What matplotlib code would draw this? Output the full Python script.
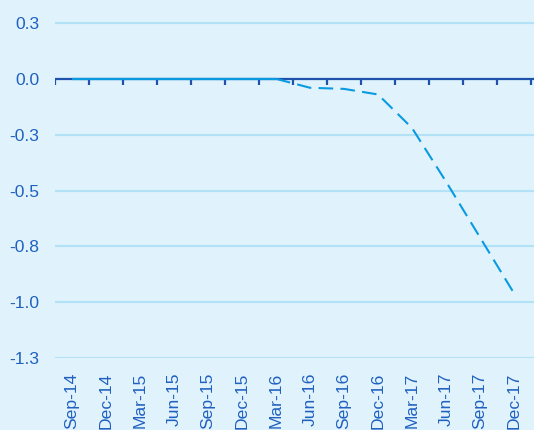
import matplotlib
matplotlib.use("Agg")
import matplotlib.pyplot as plt
import matplotlib.transforms as mtransforms
import numpy as np

categories = ["Sep-14", "Dec-14", "Mar-15", "Jun-15", "Sep-15", "Dec-15", "Mar-16",
              "Jun-16", "Sep-16", "Dec-16", "Mar-17", "Jun-17", "Sep-17", "Dec-17"]
# solid (actual) series: Sep-14 .. Mar-16
actual_values = [0, 0, 0, 0, 0, 0, 0]
# dashed (projection) series: Mar-16 .. Dec-17
projection_values = [0, -0.04, -0.045, -0.07, -0.22, -0.46, -0.71, -0.96]
ytick_values = [0.25, 0.0, -0.25, -0.5, -0.75, -1.0, -1.25]
ytick_labels = ["0.3", "0.0", "-0.3", "-0.5", "-0.8", "-1.0", "-1.3"]

bg = "#e0f3fd"
grid_c = "#b3e2f6"
axis_c = "#1f52aa"
line_c = "#0a9ae0"
text_c = "#2060bf"

plt.rcParams["font.family"] = ["Liberation Sans", "DejaVu Sans"]

fig = plt.figure(figsize=(5.34, 4.30), dpi=100, facecolor=bg)
ax = fig.add_axes([55 / 534, 1 - 358 / 430, 1 - 55 / 534, 358 / 430])
ax.set_facecolor(bg)

n = len(categories)
x_all = np.arange(n)
ax.set_xlim(-0.5, (534 - 72) / 34)
ax.set_ylim(-1.25, 0.353)

ax.set_yticks(ytick_values)
ax.set_yticklabels(ytick_labels)
ax.tick_params(axis="y", length=0, pad=11.5, labelsize=12.6, labelcolor=text_c)
ax.yaxis.grid(True, color=grid_c, linewidth=1.6)
ax.set_axisbelow(True)
for s in ax.spines.values():
    s.set_visible(False)

# zero axis line with category boundary ticks
ax.axhline(0, color=axis_c, linewidth=1.6, zorder=2)
tick_len = 6 / 224
ax.vlines(np.arange(n + 1) - 0.5, -tick_len, 0, color=axis_c, linewidth=1.6, zorder=2)

# series
x_act = x_all[:len(actual_values)]
ax.plot(x_act, actual_values, color=line_c, linewidth=1.6, solid_capstyle="butt", zorder=3)
x_proj = x_all[len(actual_values) - 1:len(actual_values) - 1 + len(projection_values)]
ax.plot(x_proj, projection_values, color=line_c, linewidth=1.5,
        linestyle=(0, (7, 3.5)), zorder=3)

# category labels
ax.set_xticks([])
trans = mtransforms.blended_transform_factory(ax.transData, ax.transAxes)
offset = mtransforms.ScaledTranslation(0, -15 / 100, fig.dpi_scale_trans)
for i, lab in enumerate(categories):
    ax.text(i, 0, lab, transform=trans + offset, rotation=90, ha="center", va="top",
            fontsize=12.6, color=text_c, clip_on=False)

fig.savefig("out.png", dpi=100, facecolor=bg)
